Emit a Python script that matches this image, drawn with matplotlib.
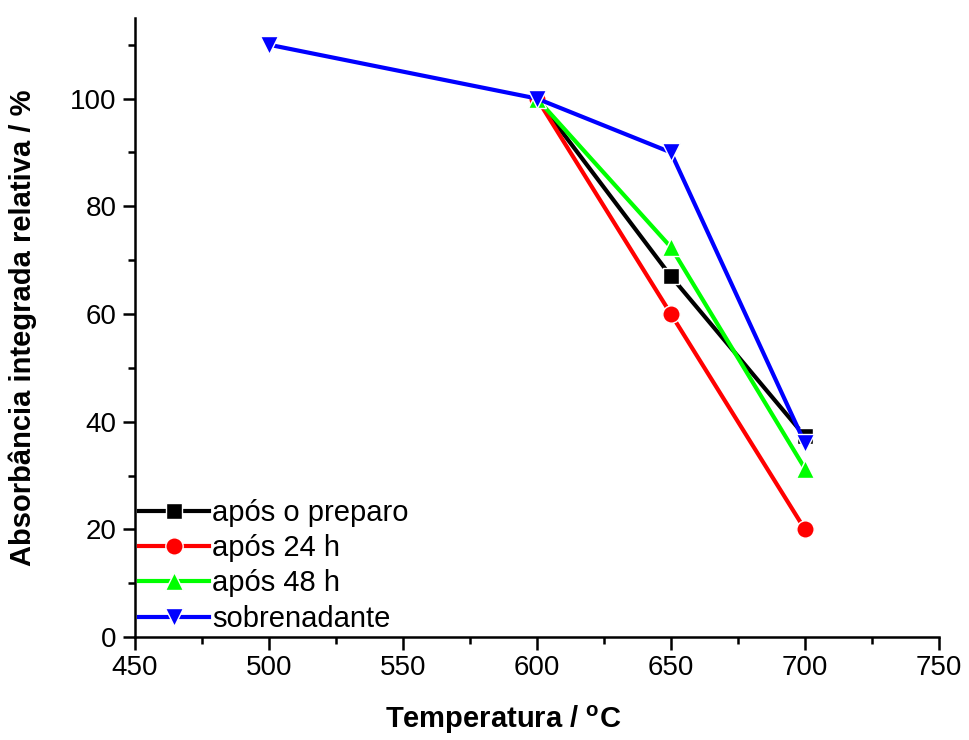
import matplotlib
matplotlib.use("Agg")
import matplotlib.pyplot as plt
from matplotlib.ticker import MultipleLocator

plt.rcParams["font.family"] = ["Liberation Sans", "DejaVu Sans"]
plt.rcParams["mathtext.fontset"] = "custom"
plt.rcParams["mathtext.bf"] = "Liberation Sans:bold"
plt.rcParams["mathtext.rm"] = "Liberation Sans"

# ---------------- Data ----------------
temp_prep = [600, 650, 700]
abs_prep = [100, 67, 37.3]

temp_24h = [600, 650, 700]
abs_24h = [100, 60, 20]

temp_48h = [600, 650, 700]
abs_48h = [100, 72.4, 31.3]

temp_sob = [500, 600, 650, 700]
abs_sob = [110, 100, 90, 36]

series = [
    (temp_prep, abs_prep, "após o preparo", "black", "s", 11),
    (temp_24h, abs_24h, "após 24 h", "red", "o", 12.5),
    (temp_48h, abs_48h, "após 48 h", "#00ff00", "^", 13),
    (temp_sob, abs_sob, "sobrenadante", "blue", "v", 13),
]

# ---------------- Plot ----------------
fig = plt.figure(figsize=(9.7, 7.4), dpi=100)
ax = fig.add_axes([0.139, 0.139, 0.829, 0.837])

for x, y, label, color, marker, ms in series:
    ax.plot(x, y, color=color, marker=marker, markersize=ms, linewidth=3,
            markeredgecolor="white", markeredgewidth=1.0, label=label)

ax.set_xlim(450, 750)
ax.set_ylim(0, 115)
ax.xaxis.set_major_locator(MultipleLocator(50))
ax.xaxis.set_minor_locator(MultipleLocator(25))
ax.yaxis.set_major_locator(MultipleLocator(20))
ax.yaxis.set_minor_locator(MultipleLocator(10))

for side in ("top", "right"):
    ax.spines[side].set_visible(False)
for side in ("left", "bottom"):
    ax.spines[side].set_linewidth(1.8)

ax.tick_params(which="major", direction="out", length=9, width=1.8,
               labelsize=20, pad=4)
ax.tick_params(which="minor", direction="out", length=5, width=1.8)

ax.set_xlabel("Temperatura / $\\mathbf{^{o}}$C", fontsize=21,
              fontweight="bold")
ax.xaxis.set_label_coords(0.458, -0.108)
ax.set_ylabel("Absorbância integrada relativa / %", fontsize=21,
              fontweight="bold", labelpad=24)

ax.legend(loc="lower left", frameon=False, fontsize=21, handlelength=2.4,
          handletextpad=0.1, labelspacing=0.25, borderaxespad=0.05,
          borderpad=0.1)

fig.savefig("out.png", dpi=100)
